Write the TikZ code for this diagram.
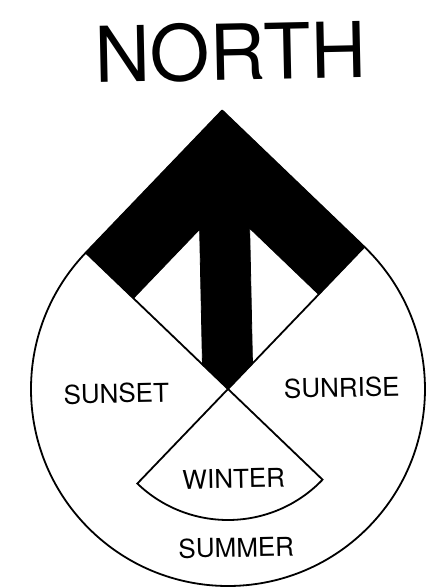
\documentclass[tikz,border=0pt]{standalone}
\usepackage{fontspec}
\setmainfont{TeX Gyre Heros}
\usetikzlibrary{calc}
\tikzset{
  rim/.style={draw=black, line width=1.8pt, line join=round},
  spoke/.style={draw=black, line width=1.8pt, line join=miter},
  arrowfill/.style={fill=black, draw=black, line width=0.8pt},
  seasontext/.style={font=\fontsize{26}{30}\selectfont, anchor=base, inner sep=0pt, rotate=1.2},
  northtext/.style={font=\fontsize{77}{80}\selectfont, anchor=base, inner sep=0pt, rotate=1.2}
}

\begin{document}
\begin{tikzpicture}[x=1pt,y=1pt]
\useasboundingbox (-228,-199) rectangle (200,389);

\begin{scope}[rotate=1.2]
  \coordinate (centre) at (0,0);
  \coordinate (apex) at (90:278.6);
  \coordinate (tanleft) at (135:197);
  \coordinate (tanright) at (45:197);

  % black arrow
  \fill[arrowfill] (tanleft) -- (apex) -- (tanright) -- (45:131) -- (25,160.3)
    -- (25,25) -- (centre) -- (-25,25) -- (-25,160.3) -- (135:131) -- cycle;

  % outline of the drop
  \draw[rim] (tanright) arc[start angle=45, end angle=-225, radius=197]
    -- (apex) -- cycle;

  % the cross and the winter sector
  \draw[spoke] (tanleft) -- (centre) -- (tanright);
  \draw[spoke] (centre) -- (225:131) arc[start angle=225, end angle=315, radius=131] -- cycle;
\end{scope}

\node[northtext] (north) at (3,309) {NORTH};
\node[seasontext] (sunset) at (-111.5,-14) {SUNSET};
\node[seasontext] (sunrise) at (114,-8) {SUNRISE};
\node[seasontext] (winter) at (6,-99) {WINTER};
\node[seasontext] (summer) at (8.5,-168) {SUMMER};

\end{tikzpicture}
\end{document}
